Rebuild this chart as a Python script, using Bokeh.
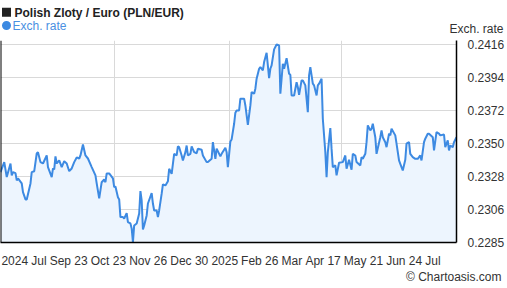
from bokeh.plotting import figure
from bokeh.layouts import column
from bokeh.models import ColumnDataSource, FixedTicker, Range1d, Span, Label
from bokeh.embed import file_html
from bokeh.resources import INLINE

# Days since 2024-07-02 and PLN/EUR exchange rate
day = [0, 3, 5, 8, 9, 10, 12, 13, 14, 17,
       18, 20, 21, 24, 25, 27, 29, 30, 32, 34,
       37, 38, 41, 42, 43, 44, 45, 47, 49, 51,
       53, 55, 57, 59, 61, 63, 64, 66, 68, 70,
       73, 76, 77, 79, 81, 83, 84, 85, 87, 90,
       91, 92, 94, 95, 96, 98, 99, 101, 102, 104,
       105, 106, 107, 109, 111, 112, 113, 114, 115, 117,
       118, 121, 122, 123, 125, 126, 127, 129, 130, 132,
       134, 135, 137, 138, 139, 141, 142, 143, 145, 146,
       148, 149, 150, 152, 153, 155, 157, 158, 161, 162,
       165, 166, 169, 170, 172, 173, 176, 177, 180, 181,
       182, 184, 185, 187, 188, 189, 191, 192, 195, 196,
       198, 200, 201, 203, 204, 205, 207, 208, 210, 211,
       213, 215, 216, 217, 219, 221, 223, 224, 226, 227,
       229, 231, 232, 233, 235, 237, 238, 239, 241, 242,
       244, 246, 247, 248, 250, 251, 253, 254, 255, 257,
       258, 260, 261, 262, 264, 265, 266, 268, 269, 271,
       274, 276, 277, 279, 281, 282, 284, 285, 288, 289,
       290, 292, 293, 294, 296, 297, 298, 300, 301, 304,
       305, 306, 308, 309, 311, 312, 313, 316, 317, 319,
       320, 322, 324, 325, 327, 328, 330, 332, 334, 336,
       337, 339, 340, 342, 343, 346, 347, 349, 351, 352,
       355, 356, 358, 359, 360, 362, 363, 365]

rate = [0.23311, 0.23377, 0.23278, 0.23368, 0.23289, 0.23311, 0.23304, 0.23256, 0.23269, 0.23236,
        0.23178, 0.2313, 0.2313, 0.23236, 0.23311, 0.23317, 0.23434, 0.23443, 0.23377, 0.23368,
        0.23421, 0.23344, 0.23278, 0.23335, 0.23329, 0.23415, 0.23368, 0.23388, 0.23344, 0.23383,
        0.23368, 0.23317, 0.23335, 0.23377, 0.23408, 0.23401, 0.23421, 0.23494, 0.23421, 0.23401,
        0.23344, 0.23289, 0.23236, 0.23137, 0.23244, 0.23262, 0.23244, 0.23302, 0.23302, 0.23269,
        0.23211, 0.23216, 0.23145, 0.2313, 0.23013, 0.23013, 0.23004, 0.23039, 0.2298, 0.22971,
        0.22938, 0.22847, 0.22958, 0.22971, 0.23037, 0.23185, 0.23123, 0.22931, 0.22958, 0.23024,
        0.23103, 0.23172, 0.23103, 0.23057, 0.23057, 0.23013, 0.23057, 0.23168, 0.23229, 0.23223,
        0.23251, 0.23333, 0.233, 0.23366, 0.23432, 0.23421, 0.23481, 0.23476, 0.23421, 0.23388,
        0.23443, 0.23487, 0.23421, 0.23432, 0.23481, 0.23443, 0.23436, 0.23466, 0.23459, 0.23421,
        0.23377, 0.23377, 0.23399, 0.23509, 0.23399, 0.23466, 0.23415, 0.23432, 0.23472, 0.23443,
        0.23344, 0.23514, 0.23527, 0.23631, 0.23704, 0.23719, 0.23719, 0.23797, 0.23797, 0.23752,
        0.23624, 0.23752, 0.2384, 0.2383, 0.23863, 0.23929, 0.23995, 0.24006, 0.23984, 0.24039,
        0.24101, 0.23933, 0.23995, 0.24017, 0.24123, 0.24156, 0.24149, 0.2383, 0.24028, 0.23995,
        0.24065, 0.23962, 0.23955, 0.23818, 0.23818, 0.23906, 0.23873, 0.23823, 0.23918, 0.23918,
        0.23885, 0.23708, 0.23951, 0.24006, 0.23896, 0.23885, 0.23818, 0.23885, 0.23896, 0.23929,
        0.23664, 0.23443, 0.23278, 0.23443, 0.23602, 0.23466, 0.23344, 0.23355, 0.23289, 0.23373,
        0.23377, 0.23421, 0.23333, 0.23393, 0.23327, 0.23432, 0.23421, 0.23377, 0.23355, 0.2341,
        0.23399, 0.23432, 0.23509, 0.2362, 0.23587, 0.23598, 0.23631, 0.23542, 0.23432, 0.23542,
        0.23587, 0.23542, 0.23509, 0.23476, 0.23565, 0.23554, 0.23598, 0.23554, 0.23499, 0.23388,
        0.23366, 0.23322, 0.23393, 0.23499, 0.23509, 0.23432, 0.2341, 0.23399, 0.23399, 0.23421,
        0.23388, 0.23509, 0.23532, 0.23565, 0.23565, 0.23542, 0.23454, 0.23575, 0.23565, 0.23554,
        0.2356, 0.23476, 0.23521, 0.23454, 0.23487, 0.23476, 0.23509, 0.23542]

x_tick_days = [11.4, 30.8, 54.6, 86.4, 118.2, 151.1, 179.5, 207.5, 233.2, 258.2, 290.5, 323.1, 346.2]
x_tick_labels = ["2024", "Jul", "Sep 23", "Oct 23", "Nov 26", "Dec 30", "2025",
                 "Feb 26", "Mar", "Apr 17", "May 21", "Jun 24", "Jul"]
quarter_days = [91, 183, 273]

y_ticks = [0.22845, 0.23064, 0.23282, 0.23501, 0.23719, 0.23938, 0.24156]
y_tick_labels = ["0.2285", "0.2306", "0.2328", "0.2350", "0.2372", "0.2394", "0.2416"]
y_min, y_max = 0.22845, 0.24182

title_text = "Polish Zloty / Euro (PLN/EUR)"
series_name = "Exch. rate"
axis_title = "Exch. rate"
credit = "\u00A9 Chartoasis.com"

FONT = "Liberation Sans"
TXT = "#333333"
LINE = "#3d8ae2"
LEGEND_BLUE = "#4a90e2"

# ---------- header strip (title, legend, axis title) ----------
head = figure(width=507, height=36, frame_width=507, frame_height=36,
              output_backend="svg", toolbar_location=None,
              x_axis_location=None, y_axis_location=None,
              x_range=Range1d(0, 507), y_range=Range1d(36, 0),
              min_border_left=0, min_border_right=0, min_border_top=0, min_border_bottom=0)
head.outline_line_color = None
head.grid.visible = False
head.background_fill_color = "white"
head.border_fill_color = "white"

head.scatter(x=[6], y=[11.7], marker="square", size=9, fill_color="#222222", line_color=None)
head.scatter(x=[6], y=[25], marker="circle", size=9, fill_color=LINE, line_color=None)


def head_label(x, y, text, **kw):
    opts = dict(x=x, y=y, x_units="screen", text=text, text_font=FONT, text_font_size="12px",
                text_color=TXT, text_baseline="middle")
    opts.update(kw)
    head.add_layout(Label(**opts))


head_label(14, 12, title_text, text_font_style="bold", text_color="#222222")
head_label(12, 25.5, series_name, text_color=LEGEND_BLUE)
head_label(503, 28.5, axis_title, text_align="right")

# ---------- main chart ----------
src = ColumnDataSource(dict(day=day, rate=rate))

p = figure(width=507, height=252, output_backend="svg", toolbar_location=None,
           y_axis_location="right",
           x_range=Range1d(0, 365), y_range=Range1d(y_min, y_max),
           min_border_left=0, min_border_right=48, min_border_top=4, min_border_bottom=46)
p.outline_line_color = None
p.background_fill_color = "white"
p.border_fill_color = "white"

p.varea(x="day", y1=y_min, y2="rate", source=src, fill_color="#edf5fe")
p.line(x="day", y="rate", source=src, line_color=LINE, line_width=2)

xa = p.xaxis[0]
xa.ticker = FixedTicker(ticks=x_tick_days)
xa.major_label_overrides = {d: l for d, l in zip(x_tick_days, x_tick_labels)}
ya = p.yaxis[0]
ya.ticker = FixedTicker(ticks=y_ticks)
ya.major_label_overrides = {t: l for t, l in zip(y_ticks, y_tick_labels)}
for ax in (xa, ya):
    ax.major_tick_line_color = None
    ax.minor_tick_line_color = None
    ax.axis_line_color = "black"
    ax.axis_line_width = 1.5
    ax.major_label_text_font = FONT
    ax.major_label_text_font_size = "12px"
    ax.major_label_text_color = TXT
xa.major_label_standoff = 5
ya.major_label_standoff = 5

p.xgrid.ticker = FixedTicker(ticks=quarter_days)
p.xgrid.grid_line_color = "#d9d9d9"
p.ygrid.grid_line_color = "#d9d9d9"

p.add_layout(Span(location=0, dimension="height", line_color="black", line_width=2))

p.add_layout(Label(x=501, y=8, x_units="screen", y_units="screen", text=credit,
                   text_font=FONT, text_font_size="12px", text_color=TXT,
                   text_baseline="middle", text_align="right", text_line_height=0.9),
             "below")

layout = column(head, p, spacing=0)
open("out.html", "w").write(file_html(layout, INLINE))
